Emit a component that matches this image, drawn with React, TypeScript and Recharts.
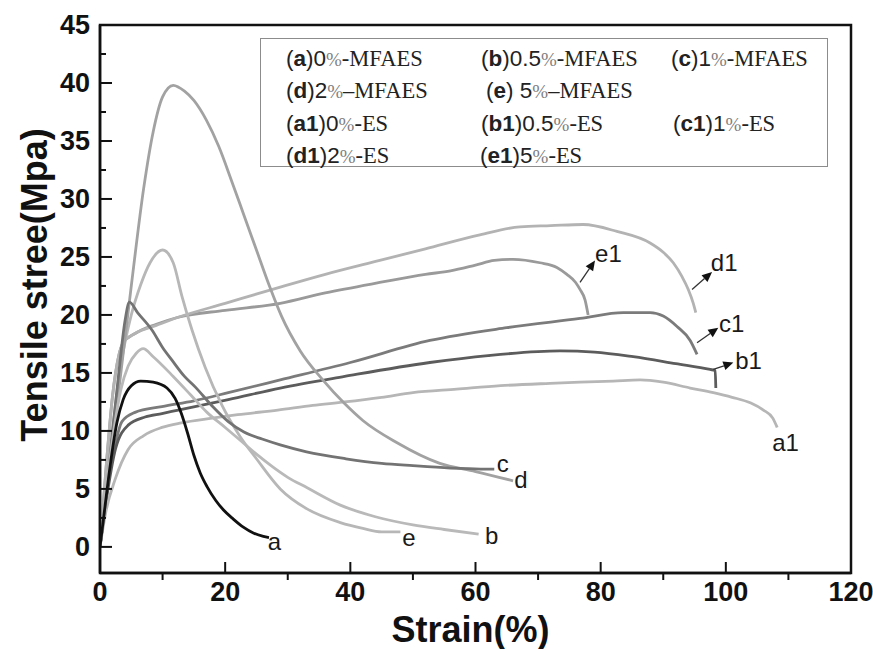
import React from "react";
import {
  LineChart,
  Line,
  XAxis,
  YAxis,
  Legend,
  ReferenceArea,
  ReferenceDot,
  ReferenceLine,
} from "recharts";

// curve ids, legend text and grey levels
const seriesKeys = ["a", "b", "c", "d", "e", "a1", "b1", "c1", "d1", "e1"];
const legendLabels = [
  "(a)0%-MFAES",
  "(b)0.5%-MFAES",
  "(c)1%-MFAES",
  "(d)2%–MFAES",
  "(e) 5%–MFAES",
  "(a1)0%-ES",
  "(b1)0.5%-ES",
  "(c1)1%-ES",
  "(d1)2%-ES",
  "(e1)5%-ES",
];
const seriesColors = [
  "#111111",
  "#b9b9b9",
  "#737373",
  "#a2a2a2",
  "#b7b7b7",
  "#b6b6b6",
  "#5c5c5c",
  "#7b7b7b",
  "#b3b3b3",
  "#9a9a9a",
];

// strain (%) / stress (MPa)
const strainA = [0, 0.8, 1.6, 2.7, 3.7, 5, 6.5, 8.5, 10.7, 12, 13, 14, 15, 16, 17.1, 18.5, 19.7, 21.3, 22.9, 24.5, 26.1, 27];
const stressA = [0, 3.5, 6.9, 10.7, 12.7, 13.9, 14.3, 14.2, 13.7, 12.8, 11.5, 9.8, 7.9, 6.4, 5.2, 4.0, 3.2, 2.4, 1.7, 1.2, 0.9, 0.8];

const strainB = [0, 1, 2.2, 3.3, 4.5, 5.8, 6.9, 8.5, 11.7, 14.5, 17.1, 20, 22.4, 25, 27.6, 30, 33.1, 38.4, 44, 50, 55, 60.5];
const stressB = [0, 5, 10, 13.5, 15.6, 16.7, 17.1, 16.4, 14.7, 13.1, 11.6, 10.3, 9.2, 8, 6.9, 6, 5.1, 3.6, 2.6, 1.9, 1.5, 1.1];

const strainC = [0, 1, 2, 3, 4, 4.7, 6, 8.3, 10, 11.5, 13.5, 15.2, 18, 20.5, 23, 25.9, 28.8, 33, 39.3, 45, 50, 56, 63];
const stressC = [0, 4.5, 10, 15, 19.5, 21.1, 20.2, 18.7, 17.2, 16.1, 14.7, 13.8, 12.1, 10.8, 9.9, 9.3, 8.8, 8.2, 7.6, 7.2, 7.0, 6.8, 6.7];

const strainD = [0, 1, 3, 5, 7, 8.5, 10, 11.7, 13.5, 15, 17, 19, 21, 23, 25, 27, 29, 32, 35.6, 39, 42, 47.4, 54.3, 60, 66];
const stressD = [0, 4.5, 13.5, 22.5, 31, 35.8, 38.8, 39.8, 39.3, 38.5, 36.8, 34.5, 31.6, 28.6, 25.6, 22.6, 19.9, 16.9, 14.4, 12.4, 10.9, 9, 7.2, 6.5, 5.7];

const strainE = [0, 1, 2.2, 3.5, 5, 6.5, 8, 10, 11.7, 13.1, 14.7, 16.8, 19.5, 22.4, 25, 28.8, 33, 38.4, 42, 45, 48];
const stressE = [0, 5, 11, 16.2, 20, 22.6, 24.5, 25.6, 24.5, 21.6, 18.7, 15.5, 12.2, 9.5, 7.6, 5.0, 3.3, 2.1, 1.6, 1.3, 1.3];

const strainA1 = [0, 1, 2.4, 4.5, 7, 9.9, 13, 17.9, 22, 28.4, 34, 39.1, 45, 50, 57, 64, 71.9, 76.7, 82, 86.3, 90, 94.3, 98, 101, 104, 106, 107.5, 108.2];
const stressA1 = [0, 3.2, 5.8, 8.4, 9.6, 10.3, 10.7, 11.1, 11.4, 11.8, 12.2, 12.5, 12.9, 13.3, 13.6, 13.9, 14.1, 14.2, 14.3, 14.4, 14.2, 13.7, 13.3, 12.9, 12.4, 11.8, 11.1, 10.3];

const strainB1 = [0, 1, 2.5, 4.5, 7.2, 9.9, 12.5, 20.5, 28.8, 39.1, 52.7, 62, 73.5, 79, 85.2, 92, 97.5, 98.3, 98.4];
const stressB1 = [0, 4, 8.5, 10.5, 11.2, 11.5, 11.8, 12.7, 13.7, 14.7, 15.9, 16.5, 16.9, 16.8, 16.4, 15.8, 15.3, 15.2, 13.7];

const strainC1 = [0, 1, 2.5, 3.5, 5.6, 9.9, 15, 20.5, 28.8, 40, 52.7, 65, 76.7, 83.6, 87.9, 90, 92.2, 94.3, 95.4];
const stressC1 = [0, 4.5, 9, 10.8, 11.6, 12.1, 12.6, 13.3, 14.4, 15.9, 17.8, 18.9, 19.7, 20.2, 20.2, 19.9, 19, 17.8, 16.6];

const strainD1 = [0, 1, 2, 3, 3.7, 5.6, 9, 12.5, 20, 28.8, 36, 44.7, 52, 60.7, 67.1, 72, 77.2, 82.6, 87.9, 90, 91.6, 93, 94, 94.8, 95.2];
const stressD1 = [0, 7, 13, 16.5, 17.6, 18.4, 19.1, 19.8, 21, 22.4, 23.5, 24.7, 25.7, 26.9, 27.6, 27.7, 27.8, 27.2, 26.2, 25.4, 24.5, 23.3, 22.2, 21, 20.2];

const strainE1 = [0, 1, 2, 3, 3.7, 5.6, 9, 12.5, 20, 28.8, 36, 44.7, 52, 56, 60, 63, 66, 70.3, 73, 74.6, 76, 76.7, 77.5, 78];
const stressE1 = [0, 7, 13, 16.5, 17.6, 18.4, 19.2, 19.8, 20.4, 21, 21.9, 22.8, 23.5, 23.8, 24.3, 24.7, 24.8, 24.5, 24.1, 23.5, 22.8, 22.2, 21.3, 20];

const strains = [strainA, strainB, strainC, strainD, strainE, strainA1, strainB1, strainC1, strainD1, strainE1];
const stresses = [stressA, stressB, stressC, stressD, stressE, stressA1, stressB1, stressC1, stressD1, stressE1];

// where the curve names sit (text start, data units)
const tagKeys = ["a", "e", "b", "c", "d", "a1", "e1", "d1", "c1", "b1"];
const tagX = [26.8, 48.3, 61.5, 63.4, 66.2, 107.4, 79.1, 97.6, 98.9, 101.5];
const tagY = [0.45, 0.85, 1.0, 7.2, 5.8, 9.0, 25.3, 24.5, 19.3, 16.1];

// little pointer arrows for the ES curves
const arrowFromX = [76.7, 94.6, 95.4, 98.0];
const arrowFromY = [22.8, 22.2, 17.6, 15.3];
const arrowToX = [79.1, 97.8, 98.8, 101.2];
const arrowToY = [24.7, 23.7, 18.9, 15.9];

const xMajor = [0, 20, 40, 60, 80, 100, 120];
const xMinor = [10, 30, 50, 70, 90, 110];
const yMajor = [0, 5, 10, 15, 20, 25, 30, 35, 40, 45];
const yMinor = [2.5, 7.5, 12.5, 17.5, 22.5, 27.5, 32.5, 37.5, 42.5];

const yMin = -2.25;
const narrow = "'Liberation Sans Narrow', 'Arial Narrow', 'Liberation Sans', Arial, sans-serif";
const sans = "'Liberation Sans', Arial, sans-serif";
const serif = "'Liberation Serif', 'Times New Roman', serif";

const curves = seriesKeys.map((k, i) => ({
  key: k,
  color: seriesColors[i],
  points: strains[i].map((x, j) => ({ x, y: stresses[i][j] })),
}));

const XTick = (props: any) => {
  const { x, y, payload } = props;
  const major = xMajor.includes(payload.value);
  return (
    <g>
      <line x1={x} x2={x} y1={y} y2={major ? y - 11 : y + 7} stroke="#111" strokeWidth={2} />
      {major && (
        <text x={x} y={y + 19} textAnchor="middle" dominantBaseline="central" fontFamily={narrow} fontWeight="bold" fontSize={27} fill="#111">
          {payload.value}
        </text>
      )}
    </g>
  );
};

const YTick = (props: any) => {
  const { x, y, payload } = props;
  const major = yMajor.includes(payload.value);
  const ax = x + 10;
  return (
    <g>
      <line x1={ax} x2={ax + (major ? 12 : 6)} y1={y} y2={y} stroke="#111" strokeWidth={2} />
      {major && (
        <text x={x} y={y} textAnchor="end" dominantBaseline="central" fontFamily={narrow} fontWeight="bold" fontSize={27} fill="#111">
          {payload.value}
        </text>
      )}
    </g>
  );
};

const XTitle = (props: any) => {
  const { viewBox } = props;
  return (
    <text x={viewBox.x + viewBox.width / 2 - 5} y={viewBox.y + 69} textAnchor="middle" fontFamily={narrow} fontWeight="bold" fontSize={36} fill="#111">
      Strain(%)
    </text>
  );
};

const YTitle = (props: any) => {
  const { viewBox } = props;
  const cx = viewBox.x + 4;
  const cy = viewBox.y + viewBox.height / 2 - 14;
  return (
    <text x={cx} y={cy} transform={`rotate(-90 ${cx} ${cy})`} textAnchor="middle" dominantBaseline="central" fontFamily={sans} fontWeight="bold" fontSize={36} fill="#111">
      Tensile stree(Mpa)
    </text>
  );
};

// legend slots: row/column placement inside the box
const slotLeft = [25, 220, 410, 25, 225, 25, 220, 412, 25, 219];
const slotTop = [20, 20, 20, 52, 52, 85, 85, 85, 117, 117];

const LegendEntry = ({ text }: { text: string }) => {
  const m = text.match(/^\((\w+)\)(\s?)([\d.]+)%(.)(\w+)$/);
  if (!m) return <span>{text}</span>;
  return (
    <span style={{ whiteSpace: "nowrap", color: "#222", fontSize: 22.5 }}>
      <span style={{ fontFamily: sans }}>(</span>
      <span style={{ fontFamily: sans, fontWeight: "bold" }}>{m[1]}</span>
      <span style={{ fontFamily: sans }}>){m[2]}{m[3]}</span>
      <span style={{ fontFamily: serif, color: "#808080", fontSize: 19 }}>%</span>
      <span style={{ fontFamily: serif }}>{m[4]}{m[5]}</span>
    </span>
  );
};

const LegendBox = () => (
  <div
    style={{
      position: "relative",
      width: 568,
      height: 129,
      border: "1.5px solid #8c8c8c",
      boxSizing: "border-box",
      background: "#fff",
    }}
  >
    {legendLabels.map((t, i) => (
      <div
        key={t}
        style={{
          position: "absolute",
          left: slotLeft[i],
          top: slotTop[i],
          transform: "translateY(-50%)",
          lineHeight: 1,
        }}
      >
        <LegendEntry text={t} />
      </div>
    ))}
  </div>
);

const Arrow = (props: any) => {
  const { x1, y1, x2, y2 } = props;
  const ang = Math.atan2(y2 - y1, x2 - x1);
  const L = 10;
  const W = 4.5;
  const bx = x2 - L * Math.cos(ang);
  const by = y2 - L * Math.sin(ang);
  const px = -Math.sin(ang) * W;
  const py = Math.cos(ang) * W;
  return (
    <g>
      <line x1={x1} y1={y1} x2={bx} y2={by} stroke="#333" strokeWidth={1.3} />
      <polygon points={`${x2},${y2} ${bx + px},${by + py} ${bx - px},${by - py}`} fill="#111" />
    </g>
  );
};

const App: React.FC = () => {
  return (
    <div style={{ position: "absolute", left: 0, top: 0, background: "#fff" }}>
      <LineChart width={873} height={649} margin={{ top: 25, right: 22, bottom: 0, left: 30 }}>
        <XAxis
          type="number"
          dataKey="x"
          domain={[0, 120]}
          ticks={[...xMajor, ...xMinor].sort((p, q) => p - q)}
          interval={0}
          allowDataOverflow
          height={76}
          tickSize={0}
          tickMargin={0}
          tickLine={false}
          axisLine={{ stroke: "#111", strokeWidth: 2.5 }}
          tick={<XTick />}
          label={<XTitle />}
        />
        <YAxis
          type="number"
          domain={[yMin, 45]}
          ticks={[...yMajor, ...yMinor].sort((p, q) => p - q)}
          interval={0}
          allowDataOverflow
          width={70}
          tickSize={0}
          tickMargin={10}
          tickLine={false}
          axisLine={{ stroke: "#111", strokeWidth: 2.5 }}
          tick={<YTick />}
          label={<YTitle />}
        />
        <ReferenceArea x1={0} x2={120} y1={yMin} y2={45} fill="none" stroke="#111" strokeWidth={2.5} />
        {[...curves].reverse().map((c) => (
          <Line
            key={c.key}
            data={c.points}
            dataKey="y"
            type="monotone"
            stroke={c.color}
            strokeWidth={2.8}
            dot={false}
            activeDot={false}
            isAnimationActive={false}
          />
        ))}
        {arrowFromX.map((x, i) => (
          <ReferenceLine
            key={"arr" + i}
            segment={[
              { x, y: arrowFromY[i] },
              { x: arrowToX[i], y: arrowToY[i] },
            ]}
            shape={(p: any) => <Arrow {...p} />}
          />
        ))}
        {tagKeys.map((k, i) => (
          <ReferenceDot
            key={"tag" + k}
            x={tagX[i]}
            y={tagY[i]}
            r={0}
            shape={(p: any) => (
              <text x={p.cx} y={p.cy} dominantBaseline="central" fontFamily={sans} fontSize={24} fill="#1a1a1a">
                {k}
              </text>
            )}
          />
        ))}
        <Legend
          layout="horizontal"
          verticalAlign="middle"
          align="center"
          wrapperStyle={{ left: 260, top: 38, width: 568, height: 129 }}
          content={() => <LegendBox />}
        />
      </LineChart>
    </div>
  );
};

export default App;
